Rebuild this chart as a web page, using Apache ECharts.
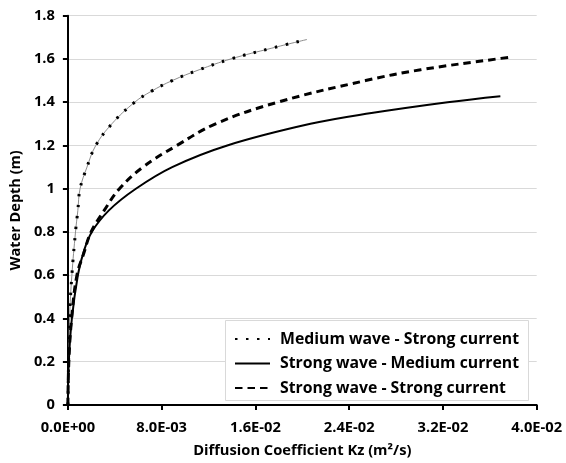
<!DOCTYPE html>
<html>
<head>
<meta charset="utf-8">
<script src="https://cdn.jsdelivr.net/npm/echarts@6/dist/echarts.min.js"></script>
<style>
html,body{margin:0;padding:0;background:#fff;}
#chart{width:566px;height:463px;}
</style>
</head>
<body>
<div id="chart"></div>
<script>
// ---- data ----
const seriesNames = ['Medium wave - Strong current', 'Strong wave - Medium current', 'Strong wave - Strong current'];

const mwscDepth = [0, 0.1, 0.2, 0.4, 0.6, 0.8, 0.9, 1.0, 1.1, 1.2, 1.3, 1.4, 1.45, 1.5, 1.55, 1.6, 1.65, 1.69];
const mwscKz    = [0, 0.00003, 0.00006, 0.00014, 0.00034, 0.00065, 0.00085, 0.00104, 0.00163, 0.00238, 0.00375, 0.0057, 0.0071, 0.0089, 0.0112, 0.0139, 0.0174, 0.0204];

const swmcDepth = [0, 0.2, 0.4, 0.6, 0.7, 0.8, 0.9, 1.0, 1.1, 1.2, 1.3, 1.35, 1.4, 1.428];
const swmcKz    = [0, 0.00008, 0.00034, 0.00085, 0.0013, 0.00204, 0.0035, 0.0058, 0.0089, 0.0136, 0.0207, 0.0259, 0.0324, 0.0369];

const swscDepth = [0, 0.2, 0.4, 0.6, 0.7, 0.8, 0.9, 1.0, 1.1, 1.2, 1.3, 1.4, 1.5, 1.55, 1.6, 1.608];
const swscKz    = [0, 0.00008, 0.00032, 0.00077, 0.00135, 0.00198, 0.0031, 0.0044, 0.0064, 0.0093, 0.0126, 0.0179, 0.0254, 0.0301, 0.0366, 0.0377];

const xTickLabels = ['0.0E+00', '8.0E-03', '1.6E-02', '2.4E-02', '3.2E-02', '4.0E-02'];
const yTickLabels = ['0', '0.2', '0.4', '0.6', '0.8', '1', '1.2', '1.4', '1.6', '1.8'];

// ---- build ----
const pairs = (xs, ys) => xs.map((x, i) => [x, ys[i]]);
const FONT = 'Open Sans';
const chart = echarts.init(document.getElementById('chart'), null, {renderer: 'canvas'});

const option = {
  animation: false,
  backgroundColor: '#fff',
  grid: {left: 66.7, right: 29.3, top: 15.7, bottom: 56.4, containLabel: false},
  xAxis: {
    type: 'value', min: 0, max: 0.04, interval: 0.008,
    name: 'Diffusion Coefficient Kz (m\u00B2/s)', nameLocation: 'middle', nameGap: 38,
    nameTextStyle: {fontFamily: FONT, fontWeight: 'bold', fontSize: 14.7, color: '#000'},
    axisLine: {show: true, lineStyle: {color: '#000', width: 2}},
    axisTick: {show: true, length: 5, lineStyle: {color: '#000', width: 2}},
    splitLine: {show: false},
    axisLabel: {
      margin: 15, fontFamily: FONT, fontWeight: 'bold', fontSize: 14.7, color: '#000',
      formatter: (v) => xTickLabels[Math.round(v / 0.008)]
    }
  },
  yAxis: {
    type: 'value', min: 0, max: 1.8, interval: 0.2,
    name: 'Water Depth (m)', nameLocation: 'middle', nameGap: 34, nameRotate: 90,
    nameTextStyle: {fontFamily: FONT, fontWeight: 'bold', fontSize: 14.5, color: '#000'},
    axisLine: {show: true, lineStyle: {color: '#000', width: 2}},
    axisTick: {show: true, length: 5, lineStyle: {color: '#000', width: 2}},
    splitLine: {show: true, lineStyle: {color: '#d9d9d9', width: 1}},
    axisLabel: {
      margin: 13, fontFamily: FONT, fontWeight: 'bold', fontSize: 14.7, color: '#000',
      formatter: (v) => yTickLabels[Math.round(v / 0.2)]
    }
  },
  graphic: [{
    type: 'rect', z: 5, left: 225, top: 320,
    shape: {width: 303, height: 80},
    style: {fill: '#fff', stroke: '#d9d9d9', lineWidth: 1}
  }],
  legend: {
    z: 10, orient: 'vertical', left: 234, top: 331, padding: 0,
    itemWidth: 35, itemHeight: 14, itemGap: 8.5,
    data: seriesNames,
    itemStyle: {color: 'rgba(0,0,0,0)', borderWidth: 0, opacity: 0},
    textStyle: {fontFamily: FONT, fontWeight: 'bold', fontSize: 15.8, color: '#000', lineHeight: 14, padding: [0, 0, 0, 5]}
  },
  series: [
    {
      name: 'mwsc-thin', type: 'line', z: 2, data: pairs(mwscKz, mwscDepth),
      smooth: 0.4, symbol: 'none', silent: true,
      lineStyle: {color: '#808080', width: 0.9}
    },
    {
      name: seriesNames[0], type: 'line', z: 3, data: pairs(mwscKz, mwscDepth),
      smooth: 0.4, symbol: 'none',
      itemStyle: {color: '#000'},
      lineStyle: {color: '#000', width: 3, type: [2.5, 8.5]}
    },
    {
      name: seriesNames[1], type: 'line', z: 3, data: pairs(swmcKz, swmcDepth),
      smooth: 0.4, symbol: 'none',
      itemStyle: {color: '#000'},
      lineStyle: {color: '#000', width: 2}
    },
    {
      name: seriesNames[2], type: 'line', z: 3, data: pairs(swscKz, swscDepth),
      smooth: 0.4, symbol: 'none',
      itemStyle: {color: '#000'},
      lineStyle: {color: '#000', width: 3, type: [7.5, 5]}
    }
  ]
};
chart.setOption(option);
</script>
</body>
</html>
